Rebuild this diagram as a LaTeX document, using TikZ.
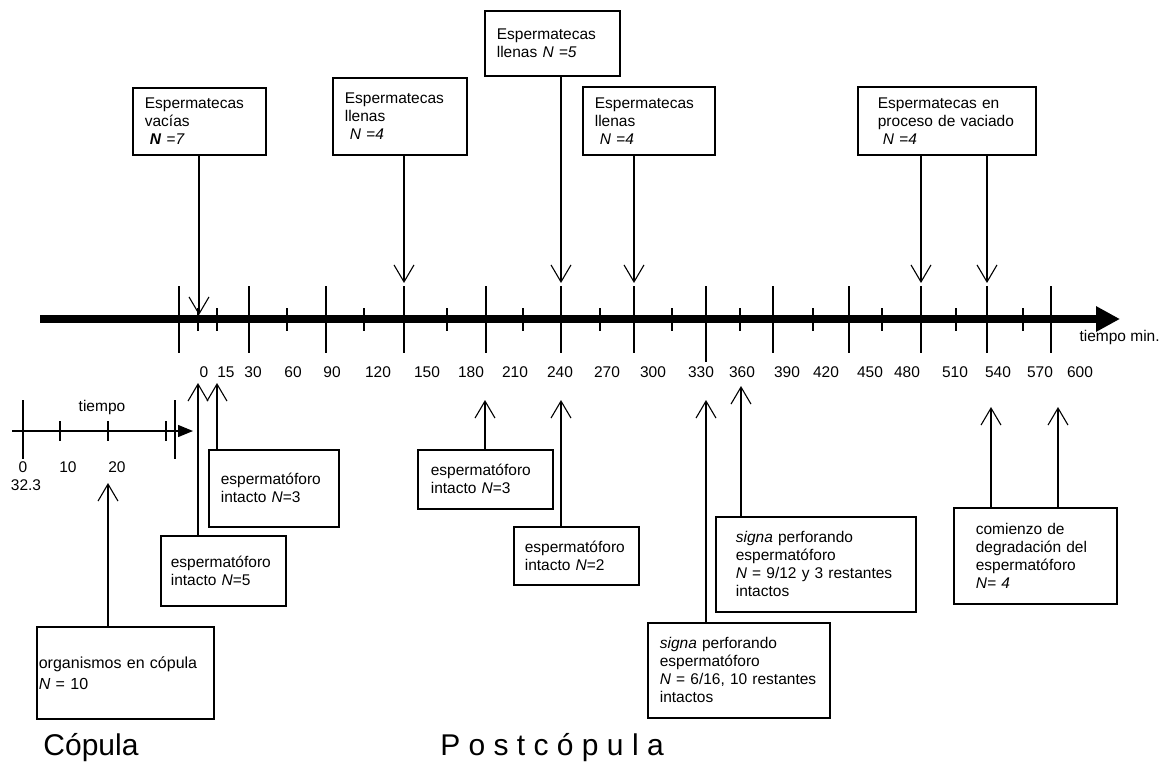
\documentclass[tikz,border=0pt]{standalone}
\usepackage{fontspec}
\setmainfont{Liberation Sans}
\usetikzlibrary{arrows.meta}

\begin{document}
\begin{tikzpicture}[x=1pt,y=-1pt,
  every node/.style={font=\fontsize{15.5}{18}\selectfont},
  caja/.style={draw,line width=1.7pt,anchor=north west,align=left,inner ysep=2pt},
  flecha/.style={line width=1.1pt,-{Straight Barb[length=17pt,width=20pt]}},
  marca/.style={line width=1.7pt}]
\useasboundingbox (0,0) rectangle (1170,772);

% eje principal
\coordinate (ini) at (40,319);
\coordinate (fin) at (1120,319);
\draw[line width=8pt,-{Triangle[length=24pt,width=24pt]}] (ini) -- (fin);
\foreach \x in {179,249,326,404,486,561,634,773,849,921,987,1051}
  \draw[marca] (\x,286) -- (\x,353);
\draw[marca] (706,286) -- (706,362);
\foreach \x in {198,217,287,364,447,523,600,672,740,813,882,956,1023}
  \draw[marca] (\x,308) -- (\x,331);
\foreach \x/\t in {204/0,226/15,253/30,293/60,332/90,378/120,427/150,471/180,
  515/210,560/240,607/270,653/300,701/330,742/360,787/390,826/420,870/450,
  907/480,955/510,998/540,1040/570,1080/600}
  \node (e\t) at (\x,372) {\t};
\node[anchor=west] (unidad) at (1076,337) {tiempo min.};

% eje de la copula
\draw[line width=1.3pt,-{Triangle[length=15pt,width=12pt]}] (12,431) -- (193,431);
\foreach \x in {23,175}
  \draw[marca] (\x,400) -- (\x,459);
\foreach \x in {60,108,166}
  \draw[marca] (\x,421) -- (\x,441);
\node (tiempo) at (102,407) {tiempo};
\node (c0) at (23,467) {0};
\node (c10) at (68,467) {10};
\node (c20) at (117,467) {20};
\node (cfin) at (26,485) {32.3};

% cajas de arriba
\node[caja,inner xsep=12pt,text width=109pt,minimum height=67pt] (B1) at (132,87)
  {Espermatecas\\vacías\\\hspace*{5pt}\textbf{\textit{N}}\textit{~=7}};
\node[caja,inner xsep=12pt,text width=110pt,minimum height=77pt] (B2) at (332,77)
  {Espermatecas\\llenas\\\hspace*{5pt}\textit{N~=4}};
\node[caja,inner xsep=12pt,text width=111pt,minimum height=65pt] (B3) at (484,10)
  {Espermatecas\\llenas~\textit{N~=5}};
\node[caja,inner xsep=12pt,text width=108pt,minimum height=68pt] (B4) at (582,86)
  {Espermatecas\\llenas\\\hspace*{5pt}\textit{N~=4}};
\node[caja,inner xsep=20pt,text width=138pt,minimum height=68pt] (B5) at (857,86)
  {Espermatecas~en\\proceso~de~vaciado\\\hspace*{5pt}\textit{N~=4}};

\coordinate (p0) at (199,315);
\coordinate (p140) at (404,283);
\coordinate (p240) at (561,283);
\coordinate (p290) at (634,283);
\coordinate (p490) at (921,283);
\coordinate (p540) at (987,283);
\draw[flecha] (B1.south -| p0) -- (p0);
\draw[flecha] (B2.south -| p140) -- (p140);
\draw[flecha] (B3.south -| p240) -- (p240);
\draw[flecha] (B4.south -| p290) -- (p290);
\draw[flecha] (B5.south -| p490) -- (p490);
\draw[flecha] (B5.south -| p540) -- (p540);

% cajas de abajo
\node[caja,inner xsep=12pt,text width=106pt,minimum height=77pt] (L1) at (208,449)
  {espermatóforo\\intacto~\textit{N}=3};
\node[caja,inner xsep=10pt,text width=105pt,minimum height=70pt] (L2) at (160,535)
  {espermatóforo\\intacto~\textit{N}=5};
\node[caja,inner xsep=2pt,text width=173pt,minimum height=92pt,
  font=\fontsize{16}{21}\selectfont] (L3) at (36,626)
  {organismos~en~cópula\\\textit{N}~=~10};
\node[caja,inner xsep=13pt,text width=109pt,minimum height=59pt] (M1) at (417,449)
  {espermatóforo\\intacto~\textit{N}=3};
\node[caja,inner xsep=11pt,text width=103pt,minimum height=58pt] (M2) at (513,526)
  {espermatóforo\\intacto~\textit{N}=2};
\node[caja,inner xsep=20pt,text width=160pt,minimum height=95pt] (S1) at (715,516)
  {\textit{signa}~perforando\\espermatóforo\\\textit{N}~=~9/12~y~3~restantes\\intactos};
\node[caja,inner xsep=12pt,text width=158pt,minimum height=95pt] (S2) at (647,622)
  {\textit{signa}~perforando\\espermatóforo\\\textit{N}~=~6/16,~10~restantes\\intactos};
\node[caja,inner xsep=22pt,text width=119pt,minimum height=96pt] (C) at (953,507)
  {comienzo~de\\degradación~del\\espermatóforo\\\textit{N=~4}};

\coordinate (q20) at (108,483);
\coordinate (q0) at (198,383);
\coordinate (q15) at (217,383);
\coordinate (q185) at (485,400);
\coordinate (q240) at (561,400);
\coordinate (q330) at (706,400);
\coordinate (q360) at (741,386);
\coordinate (q540) at (991,407);
\coordinate (q580) at (1058,407);
\draw[flecha] (L3.north -| q20) -- (q20);
\draw[flecha] (L2.north -| q0) -- (q0);
\draw[flecha] (L1.north -| q15) -- (q15);
\draw[flecha] (M1.north -| q185) -- (q185);
\draw[flecha] (M2.north -| q240) -- (q240);
\draw[flecha] (S2.north -| q330) -- (q330);
\draw[flecha] (S1.north -| q360) -- (q360);
\draw[flecha] (C.north -| q540) -- (q540);
\draw[flecha] (C.north -| q580) -- (q580);

% fases
\node[font=\fontsize{30}{32}\selectfont] (copula) at (91,748) {Cópula};
\node[font=\fontsize{30}{32}\selectfont] (postcopula) at (552,748) {P o s t c ó p u l a};
\end{tikzpicture}
\end{document}
